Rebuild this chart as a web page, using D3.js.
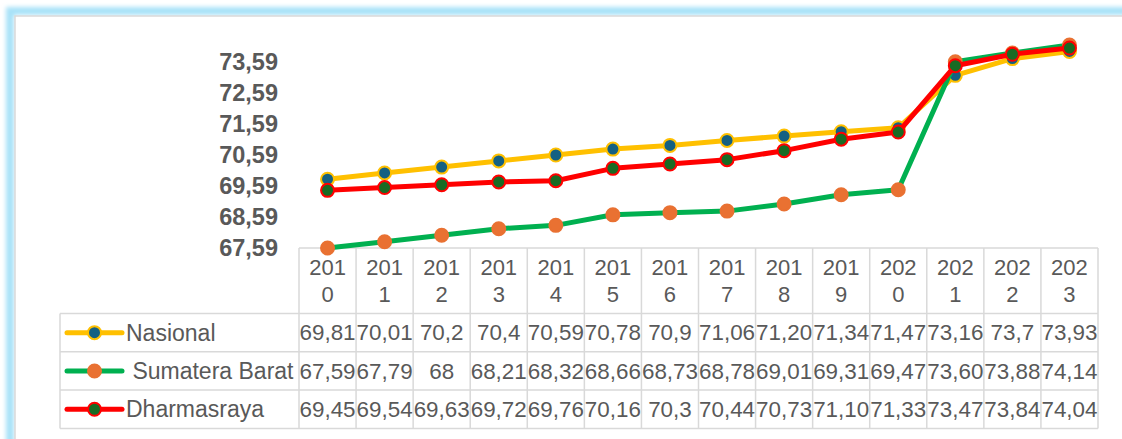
<!DOCTYPE html>
<html lang="id">
<head>
<meta charset="UTF-8">
<script src="https://d3js.org/d3.v7.min.js"></script>
<title>IPM</title>
<style>
  body { margin: 0; background: white; }
  svg { display: block; font-family: "Liberation Sans", Arial, sans-serif; }
</style>
</head>
<body>
<svg id="chart"></svg>
<script>
// data (table text kept as shown)
const years = ["2010","2011","2012","2013","2014","2015","2016","2017","2018","2019","2020","2021","2022","2023"];
const nasional = ["69,81","70,01","70,2","70,4","70,59","70,78","70,9","71,06","71,20","71,34","71,47","73,16","73,7","73,93"];
const sumbar = ["67,59","67,79","68","68,21","68,32","68,66","68,73","68,78","69,01","69,31","69,47","73,60","73,88","74,14"];
const dharmasraya = ["69,45","69,54","69,63","69,72","69,76","70,16","70,3","70,44","70,73","71,10","71,33","73,47","73,84","74,04"];
const names = ["Nasional", " Sumatera Barat", "Dharmasraya"];
const yTicks = [67.59, 68.59, 69.59, 70.59, 71.59, 72.59, 73.59];

const w = 1122, h = 439;
const textColor = "#595959";
const gridColor = "#d9d9d9";

const series = [
  { name: names[0], vals: nasional, line: "#ffc000", fill: "#156082", stroke: "#ffc000" },
  { name: names[1], vals: sumbar, line: "#00b050", fill: "#e97132", stroke: "#e97132" },
  { name: names[2], vals: dharmasraya, line: "#ff0000", fill: "#196b24", stroke: "#ff0000" }
];
const num = s => +s.replace(",", ".");

const svg = d3.select("#chart").attr("width", w).attr("height", h);

// frame with the blue glow
const defs = svg.append("defs");
defs.append("filter").attr("id", "glow").attr("x", "-5%").attr("y", "-5%").attr("width", "110%").attr("height", "110%")
  .append("feGaussianBlur").attr("stdDeviation", 2);
svg.append("rect")
   .attr("x", 10).attr("y", 11).attr("width", 1300).attr("height", 600)
   .attr("fill", "none").attr("stroke", "#a8e2f8").attr("stroke-width", 8)
   .attr("filter", "url(#glow)");
svg.append("rect")
   .attr("x", 15).attr("y", 16).attr("width", 1300).attr("height", 600)
   .attr("fill", "white").attr("stroke", gridColor).attr("stroke-width", 1.5);

// scales
const x = d3.scaleBand().domain(years).range([299, 1098]);
const bw = x.bandwidth();
const y = d3.scaleLinear().domain([67.59, 74.59]).range([248, 31]);

// y axis, labels only
const yAxis = d3.axisLeft(y)
  .tickValues(yTicks)
  .tickSize(0)
  .tickPadding(0)
  .tickFormat(d => d.toFixed(2).replace(".", ","));
const gy = svg.append("g").attr("transform", "translate(278,0)").call(yAxis);
gy.select(".domain").remove();
gy.selectAll("text")
  .attr("fill", textColor)
  .style("font-size", "23.5px")
  .style("font-weight", "bold")
  .style("font-family", "'Liberation Sans', Arial, sans-serif");

// data table
const rowTop = 313.5, rowH = 38.3;
const tableBottom = rowTop + rowH * 3;
const right = x.range()[1];
const grid = svg.append("g").attr("stroke", gridColor).attr("stroke-width", 1.5);
grid.append("line").attr("x1", x.range()[0]).attr("x2", right).attr("y1", y(67.59)).attr("y2", y(67.59));
[0, 1, 2, 3].forEach(i => {
  grid.append("line").attr("x1", 60).attr("x2", right)
      .attr("y1", rowTop + i * rowH).attr("y2", rowTop + i * rowH);
});
grid.append("line").attr("x1", 60).attr("x2", 60).attr("y1", rowTop).attr("y2", tableBottom);
years.concat([null]).forEach(yr => {
  const xx = yr ? x(yr) : right;
  grid.append("line").attr("x1", xx).attr("x2", xx).attr("y1", y(67.59)).attr("y2", tableBottom);
});

// year header, wrapped in two lines like the original
const head = svg.append("g").attr("fill", textColor).style("font-size", "22px").attr("text-anchor", "middle");
years.forEach(yr => {
  head.append("text").attr("x", x(yr) + bw / 2).attr("y", 267).attr("dy", "0.35em").text(yr.slice(0, 3));
  head.append("text").attr("x", x(yr) + bw / 2).attr("y", 294).attr("dy", "0.35em").text(yr.slice(3));
});

series.forEach((s, r) => {
  const cy = rowTop + rowH * (r + 0.5);
  const row = svg.append("g").attr("fill", textColor).style("font-size", "22.4px");
  row.selectAll("text.v")
     .data(s.vals)
     .enter()
     .append("text")
     .attr("class", "v")
     .attr("x", (d, i) => x(years[i]) + bw / 2)
     .attr("y", cy)
     .attr("dy", "0.35em")
     .attr("text-anchor", "middle")
     .text(d => d);
  // legend key
  svg.append("line").attr("x1", 67).attr("x2", 122).attr("y1", cy).attr("y2", cy)
     .attr("stroke", s.line).attr("stroke-width", 5).attr("stroke-linecap", "round");
  svg.append("circle").attr("cx", 94.5).attr("cy", cy).attr("r", 6.5)
     .attr("fill", s.fill).attr("stroke", s.stroke).attr("stroke-width", 2);
  row.append("text").attr("x", 126).attr("y", cy).attr("dy", "0.35em")
     .style("font-size", "23px")
     .style("white-space", "pre").text(s.name);
});

// lines and markers, drawn in series order
const line = d3.line()
  .x((d, i) => x(years[i]) + bw / 2)
  .y(d => y(num(d)));

series.forEach(s => {
  svg.append("path")
     .datum(s.vals)
     .attr("d", line)
     .attr("fill", "none")
     .attr("stroke", s.line)
     .attr("stroke-width", 5)
     .attr("stroke-linejoin", "round");
  svg.append("g").selectAll("circle")
     .data(s.vals)
     .enter()
     .append("circle")
     .attr("cx", (d, i) => x(years[i]) + bw / 2)
     .attr("cy", d => y(num(d)))
     .attr("r", 6.5)
     .attr("fill", s.fill)
     .attr("stroke", s.stroke)
     .attr("stroke-width", 2);
});
</script>
</body>
</html>
